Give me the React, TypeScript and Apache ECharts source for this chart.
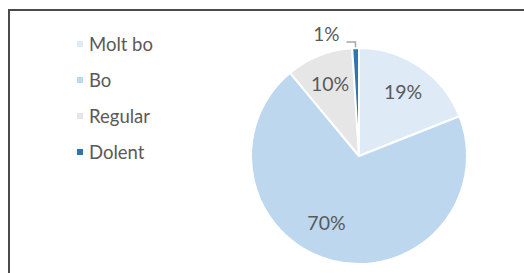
import React, { useEffect, useRef } from "react";
import * as echarts from "echarts";

const categories = ["Molt bo", "Bo", "Regular", "Dolent"];
const values = [19, 70, 10, 1];
const colors = ["#DEEBF7", "#BDD7EE", "#E7E6E6", "#2E75B6"];
const FONT = "Lato";
const TEXT = "#595959";

export default function App() {
  const ref = useRef<HTMLDivElement>(null);
  useEffect(() => {
    if (!ref.current) return;
    const chart = echarts.init(ref.current, undefined, { renderer: "svg" });
    const mainData = categories.map((name, i) => ({
      name,
      value: values[i],
      itemStyle: { color: colors[i] },
      label: { show: i === 3 },
      labelLine: { show: i === 3 },
    }));
    const overlayData = categories.map((name, i) => ({
      name,
      value: values[i],
      label: i === 1 ? { show: true, offset: [-13, -10] } : { show: i !== 3 },
    }));
    chart.setOption({
      animation: false,
      legend: {
        orient: "vertical",
        left: 70,
        top: 28,
        itemWidth: 8,
        itemHeight: 8,
        itemGap: 14,
        icon: "rect",
        selectedMode: false,
        data: categories,
        textStyle: { color: TEXT, fontFamily: FONT, fontSize: 18.5, lineHeight: 22 },
      },
      graphic: [
        {
          type: "polyline",
          shape: { points: [[9, 273], [9, 10], [524, 10]] },
          style: { stroke: "#4a4a4a", lineWidth: 2, fill: "none" },
          silent: true,
        },
      ],
      series: [
        {
          type: "pie",
          center: [359, 156],
          radius: [0, 108],
          startAngle: 90,
          clockwise: true,
          emphasis: { disabled: true },
          silent: true,
          itemStyle: { borderColor: "#ffffff", borderWidth: 2 },
          label: {
            position: "outside",
            formatter: "{c}%",
            color: TEXT,
            fontFamily: FONT,
            fontSize: 19,
          },
          labelLayout: (p: any) => (p.dataIndex === 3 ? { dy: -9, dx: -2 } : {}),
          labelLine: {
            length: 6,
            length2: 9,
            smooth: false,
            lineStyle: { color: "#A6A6A6", width: 1.5 },
          },
          data: mainData,
        },
        {
          type: "pie",
          center: [359, 156],
          radius: [43, 108],
          startAngle: 90,
          clockwise: true,
          emphasis: { disabled: true },
          silent: true,
          itemStyle: { color: "rgba(0,0,0,0)", borderWidth: 0 },
          label: {
            position: "inside",
            formatter: "{c}%",
            color: TEXT,
            fontFamily: FONT,
            fontSize: 19.5,
          },
          labelLine: { show: false },
          data: overlayData,
        },
      ],
    });
    return () => chart.dispose();
  }, []);
  return (
    <div
      ref={ref}
      style={{ position: "fixed", left: 0, top: 0, width: 524, height: 273, background: "#fff" }}
    />
  );
}
